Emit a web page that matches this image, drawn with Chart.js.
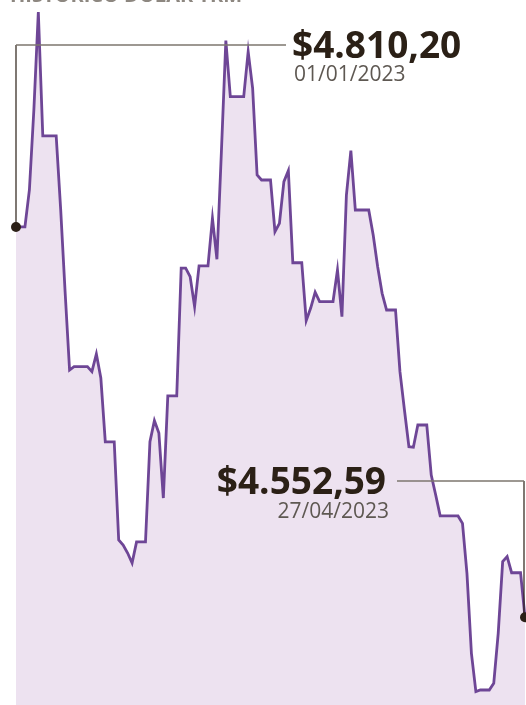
<!DOCTYPE html>
<html>
<head>
<meta charset="utf-8">
<script src="https://cdn.jsdelivr.net/npm/chart.js@4"></script>
<style>
  body { margin: 0; background: #fff; }
  canvas { display: block; }
</style>
</head>
<body>
<canvas id="trmChart" width="526" height="705"></canvas>
<script>
// TRM diaria, 01/01/2023 - 27/04/2023
const trm = [
  4810.2, 4810.2, 4810.2, 4834.6, 4887.4, 4952.1, 4870.3, 4870.3, 4870.3, 4870.3,
  4822.1, 4767.3, 4715.8, 4718.0, 4718.0, 4718.0, 4718.0, 4714.7, 4726.4, 4710.5,
  4668.3, 4668.3, 4668.3, 4603.6, 4600.3, 4595.0, 4588.4, 4602.3, 4602.3, 4602.3,
  4668.5, 4682.4, 4674.2, 4631.3, 4698.7, 4698.7, 4698.7, 4783.1, 4783.1, 4777.4,
  4757.6, 4784.5, 4784.5, 4784.5, 4815.9, 4788.9, 4859.7, 4933.2, 4896.2, 4896.2,
  4896.2, 4896.2, 4925.9, 4901.7, 4844.5, 4841.2, 4841.2, 4841.2, 4807.1, 4812.6,
  4840.1, 4847.4, 4786.6, 4786.6, 4786.6, 4748.4, 4756.7, 4767.1, 4760.9, 4760.9,
  4760.9, 4760.9, 4781.8, 4751.0, 4831.3, 4860.6, 4821.4, 4821.4, 4821.4, 4821.4,
  4804.9, 4784.0, 4766.4, 4755.4, 4755.4, 4755.4, 4714.5, 4689.4, 4665.2, 4664.8,
  4679.5, 4679.5, 4679.5, 4646.5, 4633.3, 4619.5, 4619.5, 4619.5, 4619.5, 4619.5,
  4614.6, 4581.6, 4528.8, 4503.5, 4504.6, 4504.6, 4504.6, 4509.0, 4542.0, 4589.3,
  4592.6, 4582.0, 4582.0, 4582.0, 4552.59
];
const labels = trm.map((v, i) => String(i));

// puntos destacados
const highlights = [
  { index: 0, value: '$4.810,20', date: '01/01/2023' },
  { index: trm.length - 1, value: '$4.552,59', date: '27/04/2023' }
];

const purple = '#6e4696';
const dark = '#2b2016';
const grey = '#7d776f';

const annotations = {
  id: 'annotations',
  afterDatasetsDraw(chart) {
    const c = chart.ctx;
    const xs = chart.scales.x, ys = chart.scales.y;
    const a = highlights[0], b = highlights[1];
    const ax = xs.getPixelForValue(a.index), ay = ys.getPixelForValue(trm[a.index]);
    const bx = xs.getPixelForValue(b.index), by = ys.getPixelForValue(trm[b.index]);
    c.save();

    // titulo cortado arriba
    c.fillStyle = '#8d8780';
    c.font = 'bold 20px "Open Sans"';
    c.textBaseline = 'alphabetic';
    c.textAlign = 'left';
    c.fillText('HISTÓRICO DÓLAR TRM', 10, 2);

    // conectores
    c.strokeStyle = dark;
    c.lineWidth = 1.2;
    c.beginPath();
    c.moveTo(ax, ay); c.lineTo(ax, 45);
    c.moveTo(bx - 1, by); c.lineTo(bx - 1, 481);
    c.stroke();
    c.strokeStyle = grey;
    c.lineWidth = 1.5;
    c.beginPath();
    c.moveTo(ax, 45); c.lineTo(286, 45);
    c.moveTo(397, 481); c.lineTo(bx - 1, 481);
    c.stroke();

    // puntos
    c.fillStyle = dark;
    [[ax, ay], [bx, by]].forEach(p => {
      c.beginPath(); c.arc(p[0], p[1], 5, 0, Math.PI * 2); c.fill();
    });

    // textos
    c.fillStyle = dark;
    c.font = 'bold 37px "Open Sans"';
    c.textAlign = 'left';
    c.fillText(a.value, 292, 58);
    c.textAlign = 'right';
    c.fillText(b.value, 386, 494);
    c.fillStyle = '#5e5852';
    c.font = '21px "Open Sans"';
    c.textAlign = 'left';
    c.fillText(a.date, 294, 81);
    c.textAlign = 'right';
    c.fillText(b.date, 389, 518);
    c.restore();
  }
};

new Chart(document.getElementById('trmChart'), {
  type: 'line',
  data: {
    labels: labels,
    datasets: [{
      data: trm,
      borderColor: purple,
      backgroundColor: '#ede2f0',
      borderWidth: 2.8,
      pointRadius: 0,
      tension: 0,
      fill: 'start',
      clip: false
    }]
  },
  options: {
    responsive: false,
    animation: false,
    devicePixelRatio: 1,
    layout: { padding: { left: 16, right: 1, top: 0, bottom: 0 } },
    plugins: { legend: { display: false }, tooltip: { enabled: false } },
    scales: {
      x: { display: false, offset: false },
      y: { display: false, min: 4494.7, max: 4960 }
    }
  },
  plugins: [annotations]
});
</script>
</body>
</html>
